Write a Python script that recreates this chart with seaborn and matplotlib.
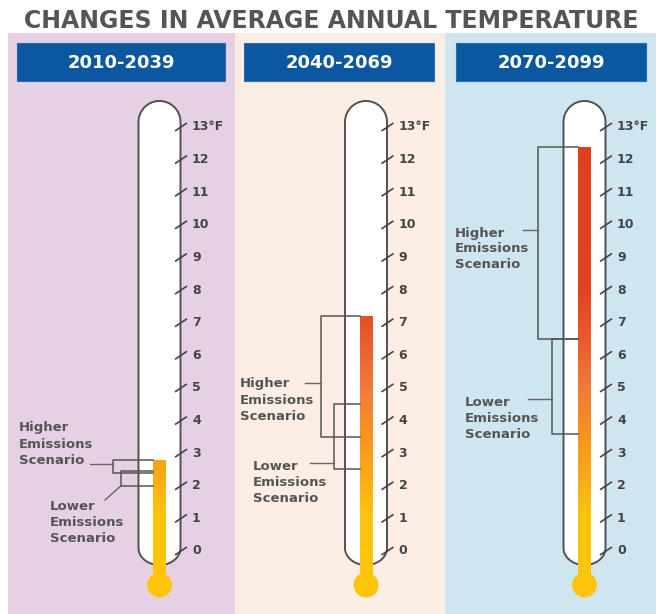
import numpy as np
import pandas as pd
import matplotlib
matplotlib.use("Agg")
import matplotlib.pyplot as plt
from matplotlib.patches import Rectangle, Polygon, Circle
from matplotlib.colors import LinearSegmentedColormap
import seaborn as sns

# ---------------- data ----------------
PERIODS = ["2010-2039", "2040-2069", "2070-2099"]
HIGHER_LOW = [2.4, 3.5, 6.5]
HIGHER_HIGH = [2.8, 7.2, 12.4]
LOWER_LOW = [2.0, 2.5, 3.6]
LOWER_HIGH = [2.45, 4.5, 6.5]
TICKS = list(range(0, 14))
TICK_LABELS = [str(t) for t in TICKS[:-1]] + ["13°F"]
TITLE = "CHANGES IN AVERAGE ANNUAL TEMPERATURE"
HIGHER_LABEL = "Higher\nEmissions\nScenario"
LOWER_LABEL = "Lower\nEmissions\nScenario"

df = pd.DataFrame({"period": PERIODS, "top": HIGHER_HIGH})

# ---------------- layout (pixels) ----------------
W, H = 656, 614
Y0, Y13 = 551, 127
PPD = (Y0 - Y13) / 13.0
PANELS = [(8, 235), (235, 445), (445, 656)]
CENTERS = [159.5, 366, 584.5]
HEADERS = [(17, 225), (244, 434), (456, 646)]
BG_COLORS = ["#e6d1e4", "#fdeee5", "#cfe6f0"]
HEADER_BLUE = "#0b57a0"
GRAY = "#555555"

# label/bracket layout per panel (x in px relative to centre, y in °F)
XH = [-46.5, -45, -46.5]
XL = [-38.5, -32, -32.5]
HLEAD = [(-69.5, (Y0 - 464) / PPD), (-61, (Y0 - 383) / PPD), (-61.5, (Y0 - 230) / PPD)]
LLEAD = [(-54.5, (Y0 - 500) / PPD), (-56, (Y0 - 463) / PPD), (-56.5, (Y0 - 399) / PPD)]
HTEXT = [(-140.5, (Y0 - 444) / PPD), (-126, (Y0 - 400) / PPD), (-129.5, (Y0 - 249) / PPD)]
LTEXT = [(-109.5, (Y0 - 523) / PPD), (-113, (Y0 - 482) / PPD), (-119.5, (Y0 - 418) / PPD)]

cmap = LinearSegmentedColormap.from_list(
    "merc",
    [(0.0, "#ffc40c"), (1.2 / 13, "#ffc20e"), (2.3 / 13, "#fbaa17"),
     (3.5 / 13, "#f7941d"), (5.0 / 13, "#f17a3c"), (6.5 / 13, "#ea5a2c"),
     (8.0 / 13, "#e2441f"), (1.0, "#e0401e")])

fig = plt.figure(figsize=(W / 100, H / 100), dpi=100)
fig.patch.set_facecolor("white")

bg = fig.add_axes([0, 0, 1, 1])
bg.set_xlim(0, W)
bg.set_ylim(H, 0)
bg.axis("off")

bg.text(24, 21, TITLE, ha="left", va="center", fontsize=17,
        fontweight="bold", color=GRAY, family="DejaVu Sans")

R = 21
for i, ((l, r), col, (hl, hr), cx, per) in enumerate(zip(PANELS, BG_COLORS, HEADERS, CENTERS, PERIODS)):
    bg.add_patch(Rectangle((l, 33), r - l, H - 33, fc=col, ec="none", zorder=0))
    bg.add_patch(Rectangle((hl, 43), hr - hl, 38, fc=HEADER_BLUE, ec="#2a6db0", lw=0.8, zorder=1))
    bg.text((hl + hr) / 2, 62.5, per, ha="center", va="center", color="white",
            fontsize=13, fontweight="bold", zorder=2)
    # tube outline
    th = np.linspace(np.pi, 0, 40)
    top = np.column_stack([cx + R * np.cos(th), 122 - R * np.sin(th)])
    th2 = np.linspace(0, np.pi, 40)
    bot = np.column_stack([cx + R * np.cos(th2), 548 + 17 * np.sin(th2)])
    bg.add_patch(Polygon(np.vstack([top, bot]), closed=True, fc="white",
                         ec="#505050", lw=1.4, zorder=2))
    bg.add_patch(Circle((cx, 585), 12.5, fc="#ffc40c", ec="none", zorder=3))

for i, ((l, r), cx, per) in enumerate(zip(PANELS, CENTERS, PERIODS)):
    ax = fig.add_axes([l / W, 0, (r - l) / W, (H - 33) / H])
    ax.patch.set_visible(False)
    sub = df[df["period"] == per]
    sns.barplot(data=sub, x="period", y="top", width=13, color="#f7941d",
                errorbar=None, ax=ax, zorder=3)
    bar = ax.patches[-1]
    bar.set_facecolor("none")
    bar.set_edgecolor("none")
    grad = np.linspace(0, 13, 400).reshape(-1, 1)
    im = ax.imshow(grad, extent=[-6.5, 6.5, 0, 13], origin="lower", cmap=cmap,
                   vmin=0, vmax=13, aspect="auto", zorder=3)
    im.set_clip_path(bar)
    # stem down to bulb
    ax.add_patch(Rectangle((-6.5, (Y0 - 585) / PPD), 13, (585 - Y0) / PPD + 0.02,
                           fc="#ffc40c", ec="none", zorder=3))
    # ticks
    for t, lab in zip(TICKS, TICK_LABELS):
        ax.plot([15.5, 27.5], [t - 4 / PPD, t + 4 / PPD], color="#444444", lw=1.2,
                zorder=4, solid_capstyle="butt")
        ax.text(32.5, t, lab, ha="left", va="center", fontsize=9,
                fontweight="bold", color="#444444", zorder=4)
    # higher bracket
    xh = XH[i]
    ax.plot([-6.5, xh, xh, -6.5], [HIGHER_HIGH[i], HIGHER_HIGH[i], HIGHER_LOW[i], HIGHER_LOW[i]],
            color=GRAY, lw=1.1, zorder=5)
    xl = XL[i]
    ax.plot([-6.5, xl, xl, -6.5], [LOWER_HIGH[i], LOWER_HIGH[i], LOWER_LOW[i], LOWER_LOW[i]],
            color=GRAY, lw=1.1, zorder=5)
    # leaders
    hx, hy = HLEAD[i]
    ax.plot([hx, xh], [hy, hy], color="#666666", lw=1.0, zorder=5)
    lx, ly = LLEAD[i]
    if i == 0:
        ax.plot([lx, xl], [ly, LOWER_LOW[i]], color="#666666", lw=1.0, zorder=5)
    else:
        ax.plot([lx, xl], [ly, ly], color="#666666", lw=1.0, zorder=5)
    # labels
    ax.text(HTEXT[i][0], HTEXT[i][1], HIGHER_LABEL, ha="left", va="center",
            fontsize=9.5, fontweight="bold", color=GRAY, linespacing=1.3, zorder=5)
    ax.text(LTEXT[i][0], LTEXT[i][1], LOWER_LABEL, ha="left", va="center",
            fontsize=9.5, fontweight="bold", color=GRAY, linespacing=1.3, zorder=5)
    ax.set_xlim(l - cx, r - cx)
    ax.set_ylim((Y0 - H) / PPD, (Y0 - 33) / PPD)
    ax.axis("off")

fig.savefig("out.png", dpi=100)
